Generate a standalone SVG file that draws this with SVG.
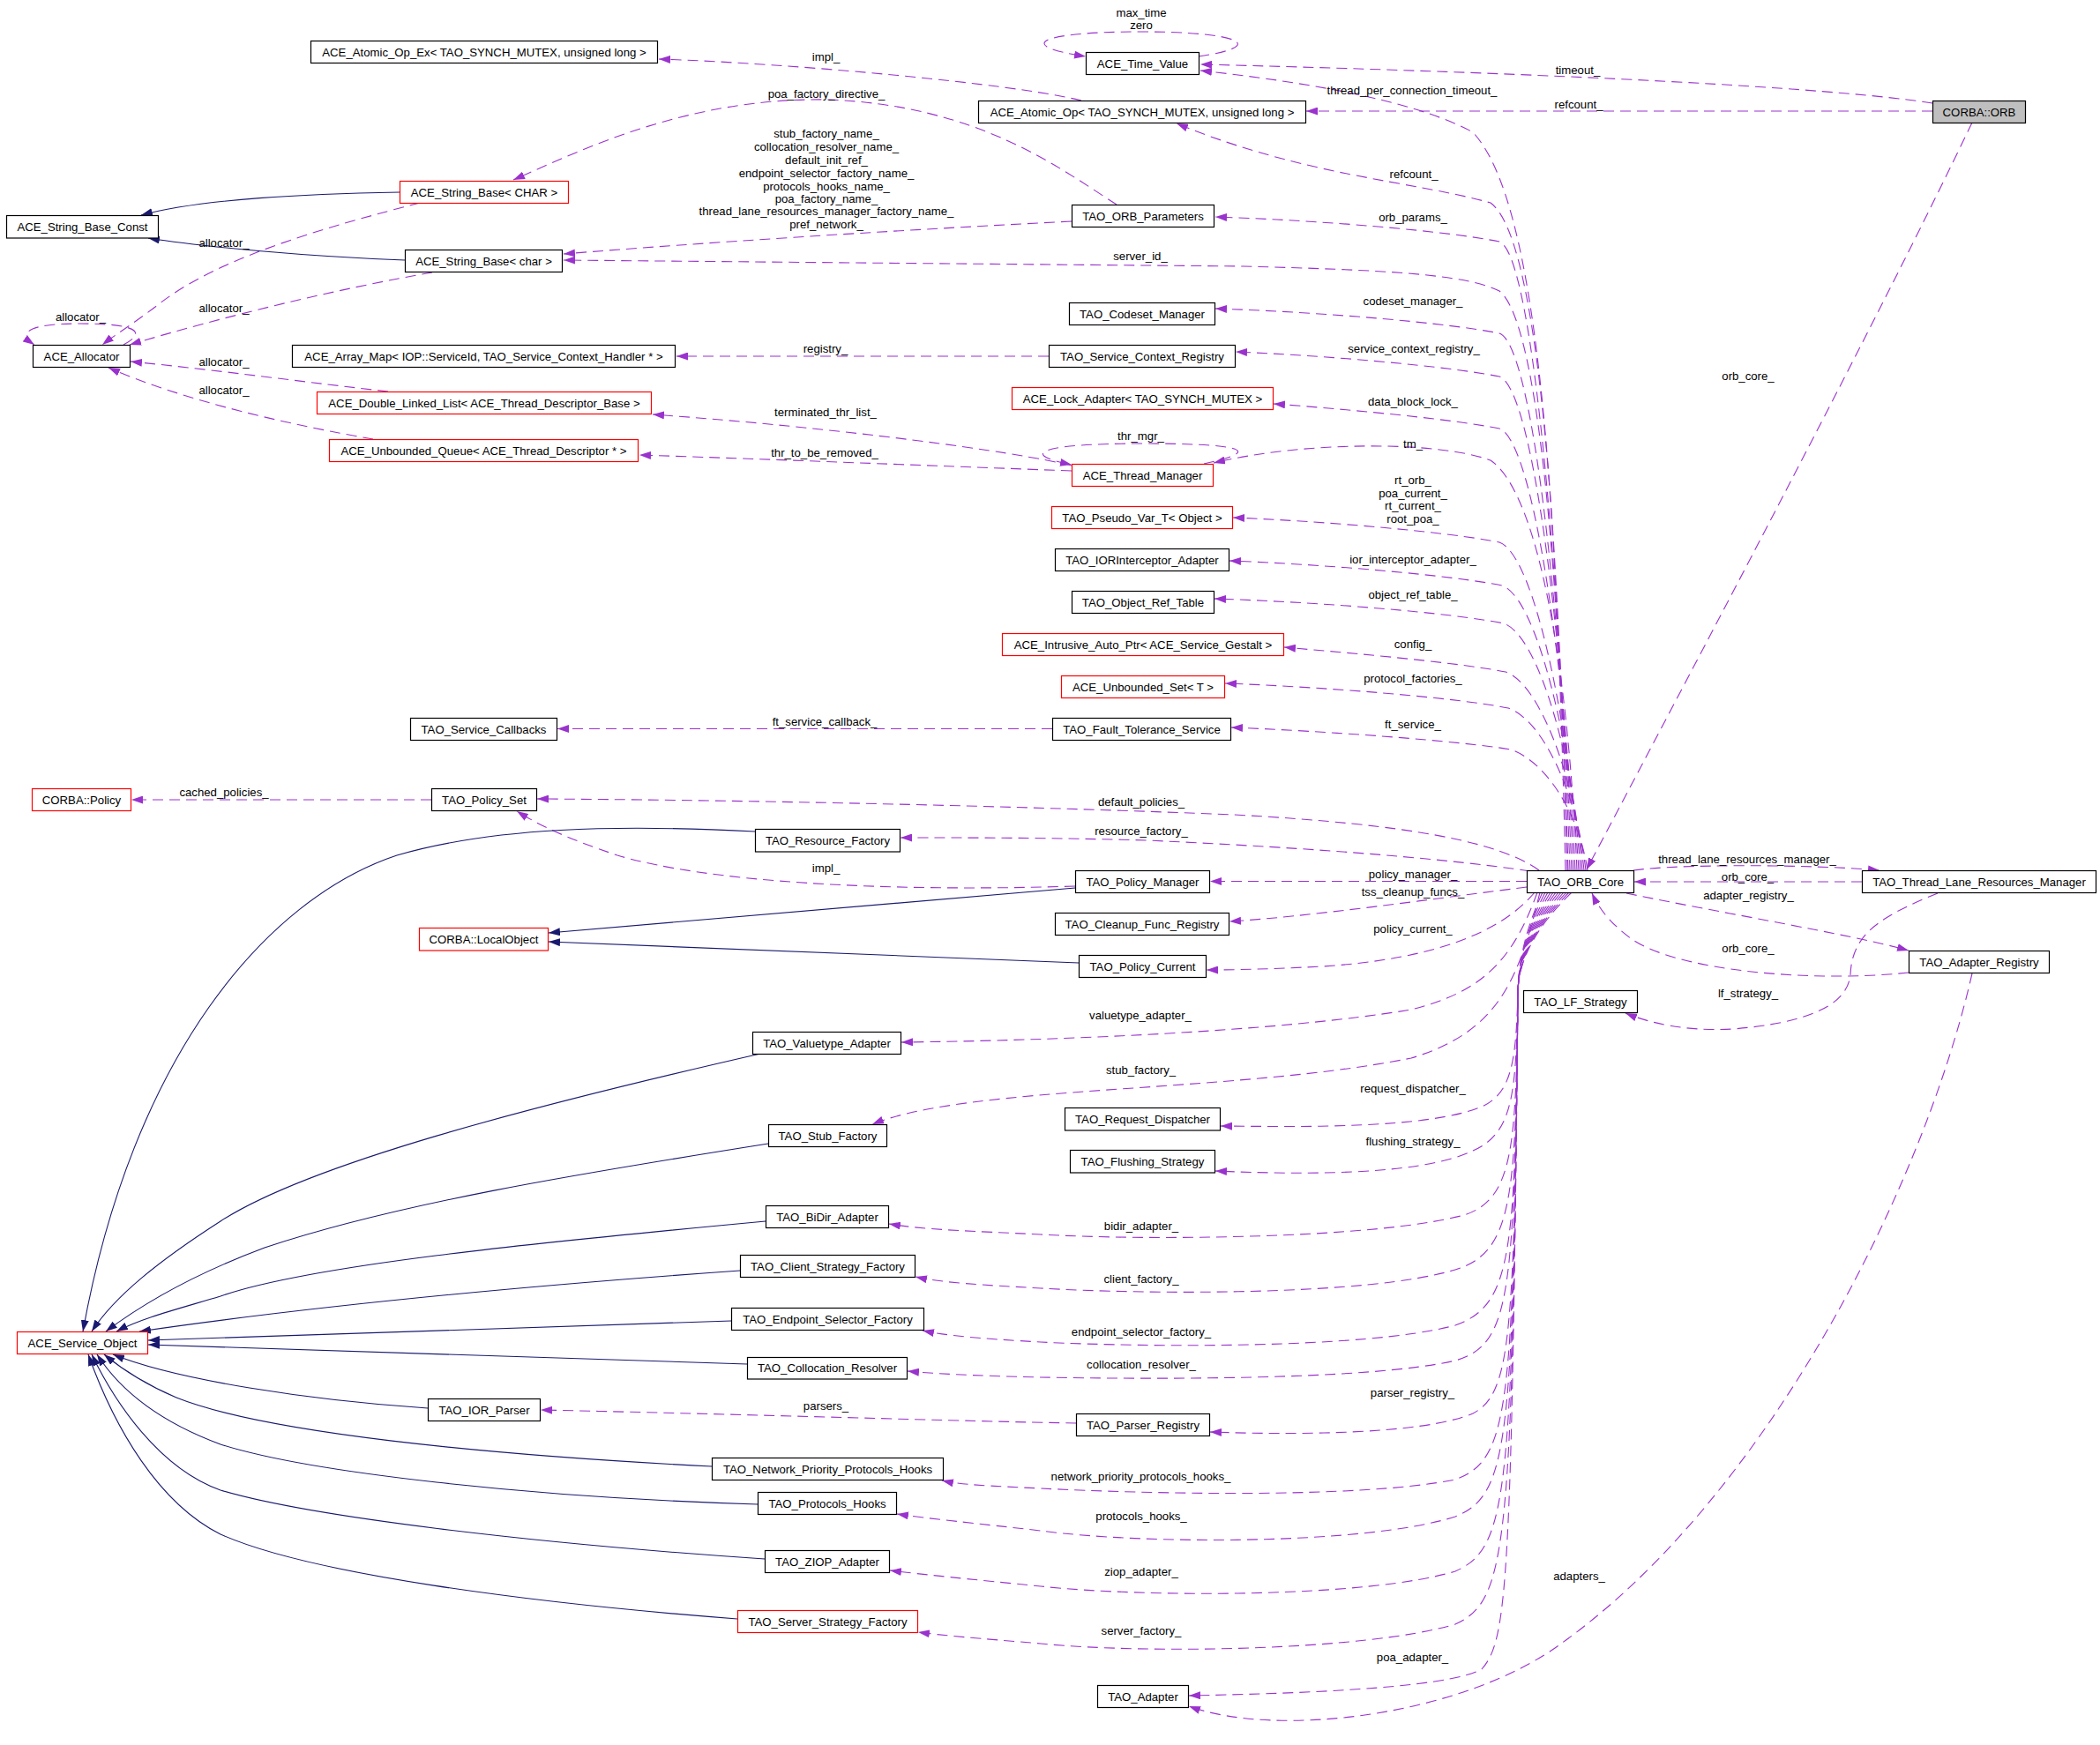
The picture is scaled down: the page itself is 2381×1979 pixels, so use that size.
<svg xmlns="http://www.w3.org/2000/svg" width="2381" height="1979" viewBox="0 0 2381 1979">
<style>
text{font-family:"Liberation Sans",Arial,sans-serif;font-size:13.2px;text-anchor:middle;fill:#000}
.n rect{fill:#fff;stroke:#000;stroke-width:1.2}
.r rect{fill:#fff;stroke:#f00;stroke-width:1.2}
.g rect{fill:#bfbfbf;stroke:#000;stroke-width:1.2}
.e{fill:none;stroke:#9a32cd;stroke-width:1.1;stroke-dasharray:12,7;marker-end:url(#pa)}
.i{fill:none;stroke:#191970;stroke-width:1.1;marker-end:url(#na)}
</style>
<defs>
<marker id="pa" viewBox="0 0 13 9" refX="13" refY="4.5" markerWidth="13" markerHeight="9" markerUnits="userSpaceOnUse" orient="auto"><path d="M0,0L13,4.5L0,9z" fill="#9a32cd"/></marker>
<marker id="na" viewBox="0 0 13 9" refX="13" refY="4.5" markerWidth="13" markerHeight="9" markerUnits="userSpaceOnUse" orient="auto"><path d="M0,0L13,4.5L0,9z" fill="#191970"/></marker>
</defs>
<rect width="2381" height="1979" fill="#fff"/>
<g id="connectors">
<path class="e" d="M2191,117 C2050,95 1650,80 1361,73"/>
<path class="e" d="M2191,126 L1481,126"/>
<path class="e" d="M2236,139 C2130,360 1950,700 1799,986"/>
<path class="e" d="M1359,64 C1440,52 1405,36 1295,36 C1175,36 1150,52 1231,64"/>
<path class="e" d="M1775,987 C1765,560 1745,230 1670,150 C1600,112 1470,92 1361,80"/>
<path class="e" d="M1777,987 C1767,600 1745,270 1690,230 C1600,205 1480,200 1334,140"/>
<path class="e" d="M1226,114 C1150,95 900,72 747,67"/>
<path class="e" d="M1266,232 C1200,190 1110,120 940,113 C780,110 660,170 582,204"/>
<path class="e" d="M1215,251 C1000,262 800,275 639,288"/>
<path class="e" d="M1780,987 C1770,691 1740,288 1700,274 C1640,262 1500,250 1378,246"/>
<path class="e" d="M1778,987 C1768,660 1745,365 1700,330 C1660,310 1560,306 1410,302 L639,295"/>
<path class="e" d="M1782,987 C1772,732 1740,392 1700,378 C1640,366 1500,354 1378,350"/>
<path class="e" d="M1784,987 C1774,752 1740,441 1700,427 C1640,415 1500,403 1401,399"/>
<path class="e" d="M1189,404 L767,404"/>
<path class="e" d="M1786,987 C1776,775 1740,500 1700,486 C1640,474 1500,462 1444,458"/>
<path class="e" d="M1788,987 C1778,760 1745,560 1690,522 C1630,500 1480,500 1376,525"/>
<path class="e" d="M1365,526 C1440,510 1400,503 1295,503 C1185,503 1150,514 1215,527"/>
<path class="e" d="M1215,528 C1150,512 950,485 740,470"/>
<path class="e" d="M1215,534 C1000,526 850,520 725,516"/>
<path class="e" d="M1790,987 C1780,827 1740,629 1700,615 C1640,603 1500,591 1398,587"/>
<path class="e" d="M1792,987 C1782,847 1743,678 1703,664 C1643,652 1500,640 1394,636"/>
<path class="e" d="M1794,987 C1784,864 1745,721 1705,707 C1645,695 1500,683 1377,679"/>
<path class="e" d="M1796,987 C1786,886 1747,776 1707,762 C1647,750 1500,738 1456,734"/>
<path class="e" d="M1798,987 C1788,902 1750,817 1710,803 C1650,791 1500,779 1389,775"/>
<path class="e" d="M1800,987 C1790,922 1753,864 1713,850 C1653,840 1500,829 1396,825"/>
<path class="e" d="M1193,826.5 L632,826.5"/>
<path class="e" d="M489,907 L149,907"/>
<path class="e" d="M1745,987 C1700,955 1600,935 1400,924 C1100,912 800,907 609,906"/>
<path class="e" d="M1735,988 C1650,975 1500,962 1300,953 C1200,950 1100,950 1021,950"/>
<path class="e" d="M1219,1005 C1000,1012 800,1000 700,970 C640,950 610,935 586,920"/>
<path class="e" d="M1731,999.5 L1372,999.5"/>
<path class="e" d="M1731,1006 C1620,1020 1480,1040 1394,1045"/>
<path class="e" d="M1740,1012 C1700,1060 1620,1088 1500,1096 C1440,1099 1400,1100 1368,1100"/>
<path class="e" d="M1743,1012 C1715,1090 1680,1125 1600,1145 C1450,1170 1200,1180 1022,1182"/>
<path class="e" d="M1746,1012 C1722,1110 1700,1170 1600,1200 C1400,1240 1100,1230 989,1275"/>
<path class="e" d="M1749,1012 Q1722,1070 1721,1125 C1719,1200 1715,1240 1680,1255 C1620,1280 1480,1278 1384,1277"/>
<path class="e" d="M1752,1012 Q1722,1070 1721,1125 C1719,1240 1716,1285 1670,1305 C1610,1334 1470,1332 1378,1328"/>
<path class="e" d="M1755,1012 Q1722,1070 1721,1125 C1719,1300 1716,1360 1660,1378 C1560,1405 1300,1407 1180,1400 C1100,1396 1050,1395 1008,1388"/>
<path class="e" d="M1758,1012 Q1722,1070 1721,1125 C1719,1360 1715,1420 1650,1440 C1550,1470 1300,1468 1180,1461 C1110,1457 1070,1455 1038,1448"/>
<path class="e" d="M1761,1012 Q1722,1070 1721,1125 C1718,1420 1715,1480 1650,1503 C1550,1530 1300,1528 1180,1522 C1110,1518 1075,1515 1046,1509"/>
<path class="e" d="M1764,1012 Q1722,1070 1721,1125 C1717,1470 1713,1525 1650,1543 C1550,1566 1300,1564 1180,1562 C1100,1560 1060,1558 1029,1555"/>
<path class="e" d="M1767,1012 Q1722,1070 1721,1125 C1717,1520 1713,1580 1670,1603 C1610,1628 1460,1627 1372,1624"/>
<path class="e" d="M1220,1614 C1100,1612 850,1604 613,1599"/>
<path class="e" d="M1770,1012 Q1722,1070 1721,1125 C1716,1600 1712,1655 1650,1678 C1540,1700 1300,1694 1180,1688 C1120,1685 1090,1684 1068,1679"/>
<path class="e" d="M1773,1012 Q1722,1070 1721,1125 C1716,1640 1711,1695 1650,1720 C1550,1752 1300,1752 1180,1736 C1110,1728 1050,1722 1017,1717"/>
<path class="e" d="M1776,1012 Q1722,1070 1721,1125 C1715,1700 1710,1755 1650,1782 C1550,1812 1300,1812 1180,1799 C1100,1791 1040,1785 1009,1781"/>
<path class="e" d="M1779,1012 Q1722,1070 1721,1125 C1715,1760 1709,1815 1650,1842 C1550,1872 1300,1876 1180,1864 C1110,1858 1070,1855 1041,1851"/>
<path class="e" d="M1782,1012 Q1722,1070 1721,1125 C1714,1800 1709,1860 1680,1893 C1640,1916 1450,1921 1348,1923"/>
<path class="e" d="M2236,1104 C2180,1350 2000,1700 1770,1864 C1660,1945 1450,1972 1348,1935"/>
<path class="e" d="M1852,987 C1900,980 2050,980 2131,987"/>
<path class="e" d="M2111,1000 L1853,1000"/>
<path class="e" d="M1844,1013 C1950,1035 2100,1060 2164,1078"/>
<path class="e" d="M2164,1103 C2050,1115 1900,1100 1850,1065 C1830,1050 1815,1035 1805,1013"/>
<path class="e" d="M2197,1013 C2130,1040 2100,1060 2098,1105 C2095,1140 2050,1160 1965,1167 C1910,1170 1870,1160 1843,1149"/>
<path class="e" d="M476,230 C380,255 250,290 180,345 C150,368 130,380 116,391"/>
<path class="e" d="M490,309 C380,328 250,360 147,391"/>
<path class="e" d="M140,391 C170,375 150,367 90,367 C30,367 20,378 39,391"/>
<path class="e" d="M440,444 C350,434 250,420 148,410"/>
<path class="e" d="M423,498 C330,482 210,455 123,417"/>
<path class="i" d="M453,218 C350,220 230,225 160,244"/>
<path class="i" d="M459,295 C350,291 230,280 168,270"/>
<path class="i" d="M1219,1007 C1000,1027 800,1042 622,1058"/>
<path class="i" d="M1223,1092 C1000,1084 800,1077 622,1068"/>
<path class="i" d="M856,943 C700,935 560,938 450,970 C300,1020 150,1200 94,1510"/>
<path class="i" d="M862,1195 C600,1255 350,1320 250,1385 C180,1430 130,1470 104,1510"/>
<path class="i" d="M871,1297 C650,1332 450,1365 300,1415 C220,1445 160,1480 120,1510"/>
<path class="i" d="M868,1385 C600,1410 350,1435 250,1470 C200,1485 160,1495 132,1510"/>
<path class="i" d="M839,1441 C600,1458 350,1482 158,1510"/>
<path class="i" d="M829,1498 C600,1505 380,1512 168,1520"/>
<path class="i" d="M847,1547 C600,1538 380,1530 168,1525"/>
<path class="i" d="M485,1597 C350,1588 200,1565 128,1536"/>
<path class="i" d="M807,1663 C550,1650 300,1625 200,1585 C160,1568 135,1550 118,1536"/>
<path class="i" d="M859,1706 C600,1698 350,1670 250,1638 C180,1612 135,1575 110,1536"/>
<path class="i" d="M867,1768 C600,1750 350,1720 250,1690 C180,1665 130,1590 104,1536"/>
<path class="i" d="M836,1836 C600,1818 350,1785 250,1740 C180,1705 130,1620 100,1536"/>
</g>
<g id="edge-labels">
<text x="936.5" y="68.5">impl_</text>
<text x="937" y="111">poa_factory_directive_</text>
<text x="937" y="156">stub_factory_name_</text>
<text x="937" y="171">collocation_resolver_name_</text>
<text x="937" y="186">default_init_ref_</text>
<text x="937" y="200.5">endpoint_selector_factory_name_</text>
<text x="937" y="215.5">protocols_hooks_name_</text>
<text x="937" y="230">poa_factory_name_</text>
<text x="937" y="244">thread_lane_resources_manager_factory_name_</text>
<text x="937" y="259">pref_network_</text>
<text x="1294" y="18.5">max_time</text>
<text x="1294" y="32.5">zero</text>
<text x="1789" y="83.5">timeout_</text>
<text x="1790" y="123">refcount_</text>
<text x="1601" y="107">thread_per_connection_timeout_</text>
<text x="1603" y="202">refcount_</text>
<text x="1602" y="250.5">orb_params_</text>
<text x="1293" y="295">server_id_</text>
<text x="1602" y="346">codeset_manager_</text>
<text x="1603" y="400">service_context_registry_</text>
<text x="936" y="400">registry_</text>
<text x="1602" y="460">data_block_lock_</text>
<text x="1293.5" y="499">thr_mgr_</text>
<text x="1602" y="507.5">tm_</text>
<text x="936" y="471.5">terminated_thr_list_</text>
<text x="935" y="518">thr_to_be_removed_</text>
<text x="1602" y="548.5">rt_orb_</text>
<text x="1602" y="563.5">poa_current_</text>
<text x="1602" y="578">rt_current_</text>
<text x="1602" y="592.5">root_poa_</text>
<text x="1602" y="639">ior_interceptor_adapter_</text>
<text x="1602" y="679">object_ref_table_</text>
<text x="1602" y="735">config_</text>
<text x="1602" y="774">protocol_factories_</text>
<text x="1602" y="826">ft_service_</text>
<text x="935" y="823">ft_service_callback_</text>
<text x="254" y="903">cached_policies_</text>
<text x="1294" y="914">default_policies_</text>
<text x="1294" y="947">resource_factory_</text>
<text x="936.5" y="988.5">impl_</text>
<text x="1602" y="996">policy_manager_</text>
<text x="1602" y="1015.5">tss_cleanup_funcs_</text>
<text x="1602" y="1058">policy_current_</text>
<text x="1293" y="1156">valuetype_adapter_</text>
<text x="1293.5" y="1218">stub_factory_</text>
<text x="1602" y="1239">request_dispatcher_</text>
<text x="1602" y="1298.5">flushing_strategy_</text>
<text x="1294" y="1395">bidir_adapter_</text>
<text x="1294" y="1455">client_factory_</text>
<text x="1294" y="1515">endpoint_selector_factory_</text>
<text x="1294" y="1552">collocation_resolver_</text>
<text x="1601.5" y="1584">parser_registry_</text>
<text x="936.5" y="1598.5">parsers_</text>
<text x="1293.5" y="1678.5">network_priority_protocols_hooks_</text>
<text x="1294" y="1723.5">protocols_hooks_</text>
<text x="1294" y="1787">ziop_adapter_</text>
<text x="1294" y="1854">server_factory_</text>
<text x="1601.5" y="1883.5">poa_adapter_</text>
<text x="1790.5" y="1791.5">adapters_</text>
<text x="1982" y="430.5">orb_core_</text>
<text x="1981" y="979">thread_lane_resources_manager_</text>
<text x="1981.5" y="998.5">orb_core_</text>
<text x="1982.5" y="1019.5">adapter_registry_</text>
<text x="1982" y="1080">orb_core_</text>
<text x="1982" y="1131">lf_strategy_</text>
<text x="254" y="280">allocator_</text>
<text x="254" y="354">allocator_</text>
<text x="91.5" y="364">allocator_</text>
<text x="254" y="415">allocator_</text>
<text x="254" y="446.5">allocator_</text>
</g>
<g id="n_Atomic_Op_Ex" class="n"><rect x="352.5" y="46.5" width="393" height="25"/><text x="549" y="63.5">ACE_Atomic_Op_Ex&lt; TAO_SYNCH_MUTEX, unsigned long &gt;</text></g>
<g id="n_Time_Value" class="n"><rect x="1231.5" y="59.5" width="128" height="25"/><text x="1295.5" y="76.5">ACE_Time_Value</text></g>
<g id="n_Atomic_Op" class="n"><rect x="1109.5" y="114.5" width="371" height="25"/><text x="1295" y="131.5">ACE_Atomic_Op&lt; TAO_SYNCH_MUTEX, unsigned long &gt;</text></g>
<g id="n_CORBA_ORB" class="g"><rect x="2191.5" y="114.5" width="105" height="25"/><text x="2244" y="131.5">CORBA::ORB</text></g>
<g id="n_String_Base_CHAR" class="r"><rect x="453.5" y="205.5" width="191" height="25"/><text x="549" y="222.5">ACE_String_Base&lt; CHAR &gt;</text></g>
<g id="n_String_Base_Const" class="n"><rect x="7.5" y="244.5" width="172" height="25.5"/><text x="93.5" y="261.5">ACE_String_Base_Const</text></g>
<g id="n_String_Base_char" class="n"><rect x="459.5" y="283.5" width="178" height="25"/><text x="548.5" y="300.5">ACE_String_Base&lt; char &gt;</text></g>
<g id="n_Allocator" class="n"><rect x="37.5" y="391.5" width="110" height="25"/><text x="92.5" y="408.5">ACE_Allocator</text></g>
<g id="n_Array_Map" class="n"><rect x="331.5" y="391.5" width="434" height="25"/><text x="548.5" y="408.5">ACE_Array_Map&lt; IOP::ServiceId, TAO_Service_Context_Handler * &gt;</text></g>
<g id="n_Double_Linked_List" class="r"><rect x="359.5" y="444.5" width="379" height="25"/><text x="549" y="461.5">ACE_Double_Linked_List&lt; ACE_Thread_Descriptor_Base &gt;</text></g>
<g id="n_Unbounded_Queue" class="r"><rect x="373.5" y="498.5" width="350" height="25"/><text x="548.5" y="515.5">ACE_Unbounded_Queue&lt; ACE_Thread_Descriptor * &gt;</text></g>
<g id="n_ORB_Parameters" class="n"><rect x="1215.5" y="232.5" width="161" height="25"/><text x="1296" y="249.5">TAO_ORB_Parameters</text></g>
<g id="n_Codeset_Manager" class="n"><rect x="1212.5" y="343.5" width="165" height="25"/><text x="1295" y="360.5">TAO_Codeset_Manager</text></g>
<g id="n_Service_Context_Registry" class="n"><rect x="1189.5" y="391.5" width="211" height="25"/><text x="1295" y="408.5">TAO_Service_Context_Registry</text></g>
<g id="n_Lock_Adapter" class="r"><rect x="1147.5" y="439.5" width="296" height="25"/><text x="1295.5" y="456.5">ACE_Lock_Adapter&lt; TAO_SYNCH_MUTEX &gt;</text></g>
<g id="n_Thread_Manager" class="r"><rect x="1215.5" y="526.5" width="160" height="25"/><text x="1295.5" y="543.5">ACE_Thread_Manager</text></g>
<g id="n_Pseudo_Var_T" class="r"><rect x="1192.5" y="574.5" width="205" height="25"/><text x="1295" y="591.5">TAO_Pseudo_Var_T&lt; Object &gt;</text></g>
<g id="n_IORInterceptor_Adapter" class="n"><rect x="1196.5" y="622.5" width="197" height="25"/><text x="1295" y="639.5">TAO_IORInterceptor_Adapter</text></g>
<g id="n_Object_Ref_Table" class="n"><rect x="1215.5" y="670.5" width="161" height="25"/><text x="1296" y="687.5">TAO_Object_Ref_Table</text></g>
<g id="n_Intrusive_Auto_Ptr" class="r"><rect x="1136.5" y="718.5" width="319" height="25"/><text x="1296" y="735.5">ACE_Intrusive_Auto_Ptr&lt; ACE_Service_Gestalt &gt;</text></g>
<g id="n_Unbounded_Set" class="r"><rect x="1203.5" y="766.5" width="185" height="25"/><text x="1296" y="783.5">ACE_Unbounded_Set&lt; T &gt;</text></g>
<g id="n_Fault_Tolerance_Service" class="n"><rect x="1193.5" y="814.5" width="202" height="25"/><text x="1294.5" y="831.5">TAO_Fault_Tolerance_Service</text></g>
<g id="n_Service_Callbacks" class="n"><rect x="465.5" y="814.5" width="166" height="25"/><text x="548.5" y="831.5">TAO_Service_Callbacks</text></g>
<g id="n_CORBA_Policy" class="r"><rect x="36.5" y="894.5" width="112" height="25"/><text x="92.5" y="911.5">CORBA::Policy</text></g>
<g id="n_Policy_Set" class="n"><rect x="489.5" y="894.5" width="119" height="25"/><text x="549" y="911.5">TAO_Policy_Set</text></g>
<g id="n_Resource_Factory" class="n"><rect x="856.5" y="940.5" width="164" height="25.5"/><text x="938.5" y="957.5">TAO_Resource_Factory</text></g>
<g id="n_Policy_Manager" class="n"><rect x="1219.5" y="987.5" width="152" height="25"/><text x="1295.5" y="1004.5">TAO_Policy_Manager</text></g>
<g id="n_LocalObject" class="r"><rect x="475.5" y="1052.5" width="146" height="25.5"/><text x="548.5" y="1069.5">CORBA::LocalObject</text></g>
<g id="n_Cleanup_Func_Registry" class="n"><rect x="1196.5" y="1035.5" width="197" height="25"/><text x="1295" y="1052.5">TAO_Cleanup_Func_Registry</text></g>
<g id="n_Policy_Current" class="n"><rect x="1223.5" y="1083.5" width="144" height="25"/><text x="1295.5" y="1100.5">TAO_Policy_Current</text></g>
<g id="n_ORB_Core" class="n"><rect x="1731.5" y="987.5" width="121" height="25"/><text x="1792" y="1004.5">TAO_ORB_Core</text></g>
<g id="n_Thread_Lane_Resources_Manager" class="n"><rect x="2111.5" y="987.5" width="265" height="25"/><text x="2244" y="1004.5">TAO_Thread_Lane_Resources_Manager</text></g>
<g id="n_Adapter_Registry" class="n"><rect x="2164.5" y="1078.5" width="159" height="25"/><text x="2244" y="1095.5">TAO_Adapter_Registry</text></g>
<g id="n_LF_Strategy" class="n"><rect x="1727.5" y="1123.5" width="129" height="25"/><text x="1792" y="1140.5">TAO_LF_Strategy</text></g>
<g id="n_Valuetype_Adapter" class="n"><rect x="853.5" y="1170.5" width="168" height="25"/><text x="937.5" y="1187.5">TAO_Valuetype_Adapter</text></g>
<g id="n_Stub_Factory" class="n"><rect x="871.5" y="1275.5" width="134" height="25"/><text x="938.5" y="1292.5">TAO_Stub_Factory</text></g>
<g id="n_Request_Dispatcher" class="n"><rect x="1207.5" y="1256.5" width="176" height="25.5"/><text x="1295.5" y="1273.5">TAO_Request_Dispatcher</text></g>
<g id="n_Flushing_Strategy" class="n"><rect x="1213.5" y="1304.5" width="164" height="25.5"/><text x="1295.5" y="1321.5">TAO_Flushing_Strategy</text></g>
<g id="n_BiDir_Adapter" class="n"><rect x="868.5" y="1367.5" width="139" height="25"/><text x="938" y="1384.5">TAO_BiDir_Adapter</text></g>
<g id="n_Client_Strategy_Factory" class="n"><rect x="839.5" y="1423.5" width="198" height="25"/><text x="938.5" y="1440.5">TAO_Client_Strategy_Factory</text></g>
<g id="n_Endpoint_Selector_Factory" class="n"><rect x="829.5" y="1483.5" width="218" height="25"/><text x="938.5" y="1500.5">TAO_Endpoint_Selector_Factory</text></g>
<g id="n_Collocation_Resolver" class="n"><rect x="847.5" y="1539.5" width="181" height="24.5"/><text x="938" y="1556">TAO_Collocation_Resolver</text></g>
<g id="n_Service_Object" class="r"><rect x="19.5" y="1510.5" width="148" height="25"/><text x="93.5" y="1527.5">ACE_Service_Object</text></g>
<g id="n_IOR_Parser" class="n"><rect x="485.5" y="1586.5" width="127" height="25"/><text x="549" y="1603.5">TAO_IOR_Parser</text></g>
<g id="n_Parser_Registry" class="n"><rect x="1220.5" y="1603.5" width="151" height="25"/><text x="1296" y="1620.5">TAO_Parser_Registry</text></g>
<g id="n_Network_Priority_Protocols_Hooks" class="n"><rect x="807.5" y="1653.5" width="262" height="25"/><text x="938.5" y="1670.5">TAO_Network_Priority_Protocols_Hooks</text></g>
<g id="n_Protocols_Hooks" class="n"><rect x="859.5" y="1692.5" width="157" height="25"/><text x="938" y="1709.5">TAO_Protocols_Hooks</text></g>
<g id="n_ZIOP_Adapter" class="n"><rect x="867.5" y="1758.5" width="141" height="25"/><text x="938" y="1775.5">TAO_ZIOP_Adapter</text></g>
<g id="n_Server_Strategy_Factory" class="r"><rect x="836.5" y="1826.5" width="204" height="25"/><text x="938.5" y="1843.5">TAO_Server_Strategy_Factory</text></g>
<g id="n_Adapter" class="n"><rect x="1244.5" y="1911.5" width="103" height="25"/><text x="1296" y="1928.5">TAO_Adapter</text></g>
</svg>
